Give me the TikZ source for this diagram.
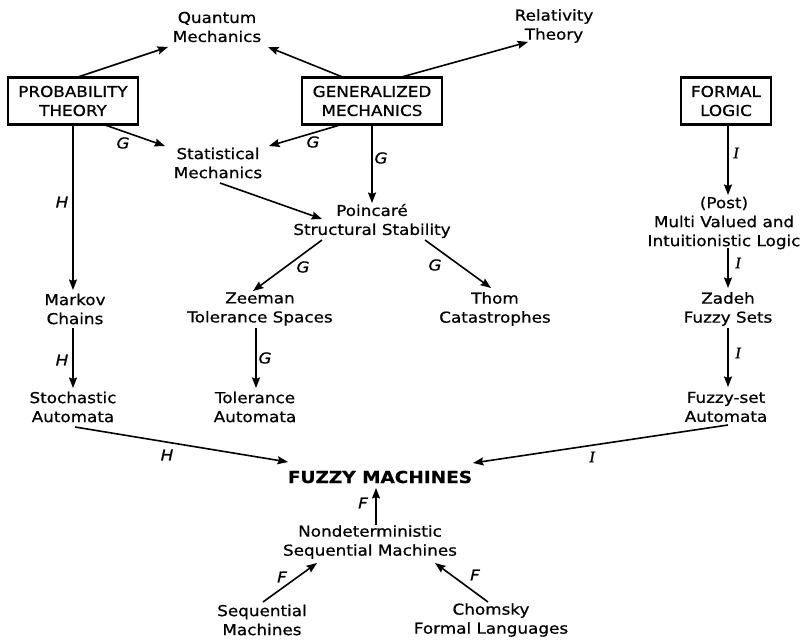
\documentclass[tikz,border=0pt]{standalone}
\usepackage{fontspec}
\setmainfont{DejaVu Sans}[FakeStretch=1.12,FakeBold=0.7]
\newfontfamily\serifI{Liberation Serif}[FakeBold=1]
\usetikzlibrary{arrows.meta,calc}
\tikzset{
  txt/.style={align=center, inner sep=1pt, font=\fontsize{15}{19}\selectfont},
  box/.style={draw, line width=2.2pt, align=center, minimum height=47pt, inner sep=0pt, font=\fontsize{15}{19}\selectfont},
  big/.style={inner sep=1pt, font=\fontsize{16.5}{20}\selectfont\bfseries},
  arr/.style={line width=1.6pt, -{Stealth[length=10.5pt,width=8pt,inset=1.5pt]}},
  lab/.style={inner sep=0pt, font=\fontsize{15}{15}\selectfont\itshape},
  labi/.style={inner sep=0pt, font=\fontsize{16}{16}\selectfont\serifI\itshape},
}
\begin{document}
\begin{tikzpicture}[x=1pt,y=-1pt]
\useasboundingbox (0,0) rectangle (810,644);
% nodes
\node[txt] (qm) at (217,27) {Quantum\\Mechanics};
\node[txt] (rt) at (554,26) {Relativity\\Theory};
\node[box, minimum width=130pt] (pt) at (73,101) {PROBABILITY\\THEORY};
\node[box, minimum width=140pt] (gm) at (372,101) {GENERALIZED\\MECHANICS};
\node[box, minimum width=90pt] (fl) at (726,101) {FORMAL\\LOGIC};
\node[txt] (stat) at (218,163) {Statistical\\Mechanics};
\node[txt] (poin) at (372,221) {Poincaré\\Structural Stability};
\node[txt] (post) at (724,223) {(Post)\\Multi Valued and\\Intuitionistic Logic};
\node[txt] (markov) at (75,309) {Markov\\Chains};
\node[txt] (zeeman) at (260,309) {Zeeman\\Tolerance Spaces};
\node[txt] (thom) at (495,309) {Thom\\Catastrophes};
\node[txt] (zadeh) at (728,309) {Zadeh\\Fuzzy Sets};
\node[txt] (stoch) at (73,407) {Stochastic\\Automata};
\node[txt] (tolaut) at (255,407) {Tolerance\\Automata};
\node[txt] (fsa) at (726,407) {Fuzzy-set\\Automata};
\node[big] (fuzzy) at (380,477) {FUZZY MACHINES};
\node[txt] (nondet) at (370,542) {Nondeterministic\\Sequential Machines};
\node[txt] (seq) at (262,620) {Sequential\\Machines};
\node[txt] (chom) at (491,620) {Chomsky\\Formal Languages};
% connectors
\draw[arr] ($(pt)+(2,-23)$) -- ($(qm)+(-49,20)$);
\draw[arr] ($(gm)+(-27,-23)$) -- ($(qm)+(51,20)$);
\draw[arr] ($(gm)+(26,-23)$) -- ($(rt)+(-26,16)$);
\draw[arr] ($(pt)+(32,24)$) -- ($(stat)+(-53,-17)$);
\draw[arr] ($(gm)+(-32,24)$) -- ($(stat)+(51,-17)$);
\draw[arr] ($(gm)+(0,24)$) -- ($(poin)+(0,-18)$);
\draw[arr] ($(stat)+(2,20)$) -- ($(poin)+(-50,-2)$);
\draw[arr] ($(pt)+(0,24)$) -- ($(markov)+(-2,-19)$);
\draw[arr] ($(poin)+(-50,19)$) -- ($(zeeman)+(-7,-18)$);
\draw[arr] ($(poin)+(53,19)$) -- ($(thom)+(-4,-21)$);
\draw[arr] ($(markov)+(-2,19)$) -- ($(stoch)+(0,-19)$);
\draw[arr] ($(zeeman)+(-4,19)$) -- ($(tolaut)+(1,-19)$);
\draw[arr] ($(fl)+(2,24)$) -- ($(post)+(4,-28)$);
\draw[arr] ($(post)+(4,25)$) -- ($(zadeh)+(0,-21)$);
\draw[arr] ($(zadeh)+(0,19)$) -- ($(fsa)+(2,-20)$);
\draw[arr] ($(stoch)+(2,20)$) -- ($(fuzzy)+(-92,-15)$);
\draw[arr] ($(fsa)+(2,18)$) -- ($(fuzzy)+(93,-14)$);
\draw[arr] ($(nondet)+(6,-17)$) -- ($(fuzzy)+(-4,11)$);
\draw[arr] ($(seq)+(1,-18)$) -- ($(nondet)+(-53,21)$);
\draw[arr] ($(chom)+(-3,-18)$) -- ($(nondet)+(65,21)$);
% labels
\node[lab] (l1) at (123,143) {G};
\node[lab] (l2) at (313,142) {G};
\node[lab] (l3) at (381,158) {G};
\node[lab] (l4) at (62,202) {H};
\node[lab] (l5) at (303,267) {G};
\node[lab] (l6) at (435,265) {G};
\node[lab] (l7) at (62,360) {H};
\node[lab] (l8) at (265,358) {G};
\node[labi] (l9) at (736,153) {I};
\node[labi] (l10) at (738,263) {I};
\node[labi] (l11) at (738,353) {I};
\node[lab] (l12) at (167,455) {H};
\node[labi] (l13) at (592,457) {I};
\node[lab] (l14) at (363,503) {F};
\node[lab] (l15) at (282,577) {F};
\node[lab] (l16) at (475,575) {F};
\end{tikzpicture}
\end{document}
